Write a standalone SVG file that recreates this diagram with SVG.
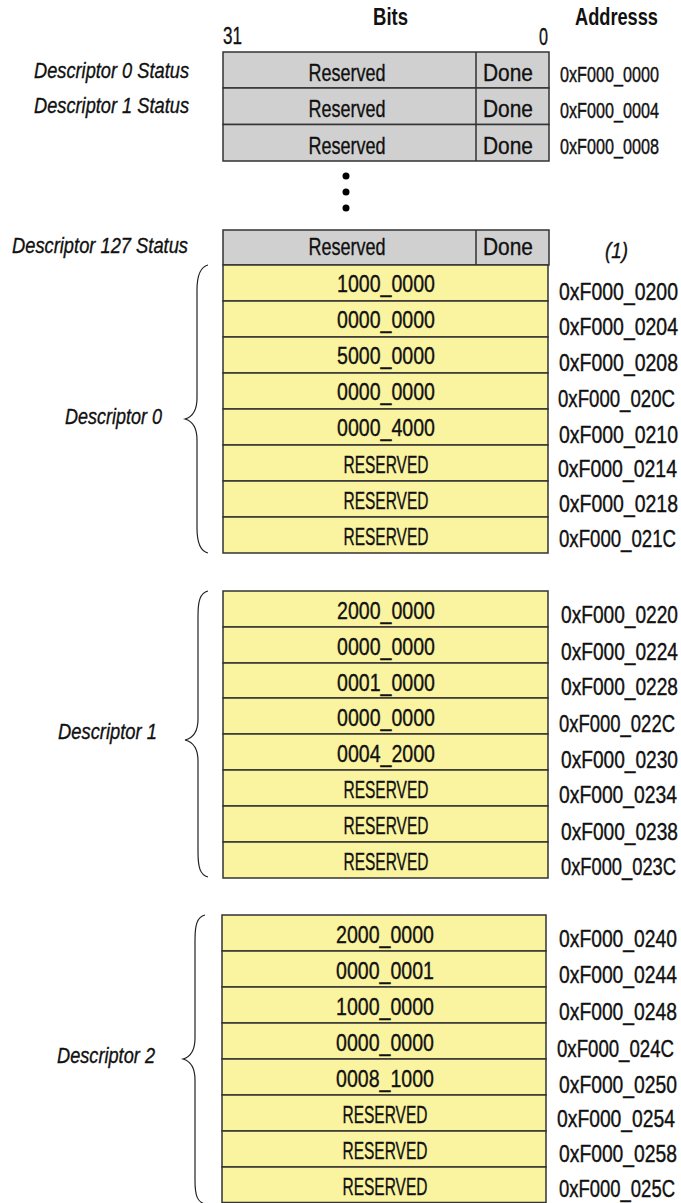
<svg xmlns="http://www.w3.org/2000/svg" width="681" height="1203" viewBox="0 0 681 1203">
<style>
text{font-family:"Liberation Sans",Arial,sans-serif;fill:#111;font-size:24px;stroke:#111;stroke-width:0.35px}
.i{font-style:italic;font-size:22px}
.b{font-weight:bold;font-size:18px;stroke-width:0}
.a{font-size:18px;stroke-width:0.3px}
.s{font-size:16px;stroke-width:0.3px}
.c{text-anchor:middle}
.g{fill:#d0d0d0;stroke:#333;stroke-width:1.5}
.y{fill:#faf3a0;stroke:#333;stroke-width:1.5}
.br{fill:none;stroke:#222;stroke-width:1.2}
</style>
<rect width="681" height="1203" fill="#fff"/>
<g id="header">
<text class="b" transform="translate(373,25) scale(1,1.333)" textLength="35" lengthAdjust="spacingAndGlyphs">Bits</text>
<text class="b" transform="translate(575,25) scale(1,1.333)" textLength="83" lengthAdjust="spacingAndGlyphs">Addresss</text>
<text x="223" y="44" textLength="19" lengthAdjust="spacingAndGlyphs">31</text>
<text x="539" y="45" textLength="9" lengthAdjust="spacingAndGlyphs">0</text>
</g>
<g id="status0">
<rect class="g" x="223" y="52" width="326" height="36"/><line x1="476" y1="52" x2="476" y2="88" stroke="#333" stroke-width="1.5"/>
<text class="i" x="34" y="78" textLength="155" lengthAdjust="spacingAndGlyphs">Descriptor 0 Status</text>
<text class="c" x="347" y="81" textLength="77" lengthAdjust="spacingAndGlyphs">Reserved</text>
<text class="c" x="508" y="81" textLength="50" lengthAdjust="spacingAndGlyphs">Done</text>
<text class="s" transform="translate(560,82) scale(1,1.375)" textLength="99" lengthAdjust="spacingAndGlyphs">0xF000_0000</text>
</g>
<g id="status1">
<rect class="g" x="223" y="88" width="326" height="36.5"/><line x1="476" y1="88" x2="476" y2="124.5" stroke="#333" stroke-width="1.5"/>
<text class="i" x="34" y="113" textLength="155" lengthAdjust="spacingAndGlyphs">Descriptor 1 Status</text>
<text class="c" x="347" y="117" textLength="77" lengthAdjust="spacingAndGlyphs">Reserved</text>
<text class="c" x="508" y="117" textLength="50" lengthAdjust="spacingAndGlyphs">Done</text>
<text class="s" transform="translate(560,118) scale(1,1.375)" textLength="99" lengthAdjust="spacingAndGlyphs">0xF000_0004</text>
</g>
<g id="status2">
<rect class="g" x="223" y="124.5" width="326" height="36.5"/><line x1="476" y1="124.5" x2="476" y2="161" stroke="#333" stroke-width="1.5"/>
<text class="c" x="347" y="153.5" textLength="77" lengthAdjust="spacingAndGlyphs">Reserved</text>
<text class="c" x="508" y="153.5" textLength="50" lengthAdjust="spacingAndGlyphs">Done</text>
<text class="s" transform="translate(560,154) scale(1,1.375)" textLength="99" lengthAdjust="spacingAndGlyphs">0xF000_0008</text>
</g>
<g id="ellipsis" fill="#000">
<circle cx="346" cy="176" r="3.5"/><circle cx="346" cy="192" r="3.5"/><circle cx="346" cy="208" r="3.5"/>
</g>
<g id="status127">
<rect class="g" x="223" y="230" width="326" height="35"/><line x1="476" y1="230" x2="476" y2="265" stroke="#333" stroke-width="1.5"/>
<text class="i" x="12" y="253" textLength="176" lengthAdjust="spacingAndGlyphs">Descriptor 127 Status</text>
<text class="c" x="347" y="255" textLength="77" lengthAdjust="spacingAndGlyphs">Reserved</text>
<text class="c" x="508" y="255" textLength="50" lengthAdjust="spacingAndGlyphs">Done</text>
<text class="i" x="605" y="258" textLength="23" lengthAdjust="spacingAndGlyphs">(1)</text>
</g>
<g id="descriptor0">
<rect class="y" x="223" y="265" width="325" height="36"/>
<rect class="y" x="223" y="301" width="325" height="36"/>
<rect class="y" x="223" y="337" width="325" height="36"/>
<rect class="y" x="223" y="373" width="325" height="36"/>
<rect class="y" x="223" y="409" width="325" height="36"/>
<rect class="y" x="223" y="445" width="325" height="36"/>
<rect class="y" x="223" y="481" width="325" height="36"/>
<rect class="y" x="223" y="517" width="325" height="36"/>
<text class="c" x="386" y="292" textLength="98" lengthAdjust="spacingAndGlyphs">1000_0000</text>
<text class="c" x="386" y="328" textLength="98" lengthAdjust="spacingAndGlyphs">0000_0000</text>
<text class="c" x="386" y="364" textLength="98" lengthAdjust="spacingAndGlyphs">5000_0000</text>
<text class="c" x="386" y="400" textLength="98" lengthAdjust="spacingAndGlyphs">0000_0000</text>
<text class="c" x="386" y="436" textLength="98" lengthAdjust="spacingAndGlyphs">0000_4000</text>
<text class="c" x="386" y="473" textLength="85" lengthAdjust="spacingAndGlyphs">RESERVED</text>
<text class="c" x="386" y="509" textLength="85" lengthAdjust="spacingAndGlyphs">RESERVED</text>
<text class="c" x="386" y="545" textLength="85" lengthAdjust="spacingAndGlyphs">RESERVED</text>
<text class="a" transform="translate(559,300) scale(1,1.333)" textLength="119" lengthAdjust="spacingAndGlyphs">0xF000_0200</text>
<text class="a" transform="translate(559,335) scale(1,1.333)" textLength="119" lengthAdjust="spacingAndGlyphs">0xF000_0204</text>
<text class="a" transform="translate(559,371) scale(1,1.333)" textLength="119" lengthAdjust="spacingAndGlyphs">0xF000_0208</text>
<text class="a" transform="translate(558,407) scale(1,1.333)" textLength="117" lengthAdjust="spacingAndGlyphs">0xF000_020C</text>
<text class="a" transform="translate(559,443) scale(1,1.333)" textLength="119" lengthAdjust="spacingAndGlyphs">0xF000_0210</text>
<text class="a" transform="translate(558,477) scale(1,1.333)" textLength="119" lengthAdjust="spacingAndGlyphs">0xF000_0214</text>
<text class="a" transform="translate(559,512) scale(1,1.333)" textLength="119" lengthAdjust="spacingAndGlyphs">0xF000_0218</text>
<text class="a" transform="translate(559,547) scale(1,1.333)" textLength="117" lengthAdjust="spacingAndGlyphs">0xF000_021C</text>
<text class="i" x="65" y="424" textLength="97" lengthAdjust="spacingAndGlyphs">Descriptor 0</text>
</g>
<g id="descriptor1">
<rect class="y" x="223" y="591" width="325" height="36"/>
<rect class="y" x="223" y="627" width="325" height="36"/>
<rect class="y" x="223" y="663" width="325" height="35"/>
<rect class="y" x="223" y="698" width="325" height="36"/>
<rect class="y" x="223" y="734" width="325" height="36"/>
<rect class="y" x="223" y="770" width="325" height="36"/>
<rect class="y" x="223" y="806" width="325" height="36"/>
<rect class="y" x="223" y="842" width="325" height="36"/>
<text class="c" x="386" y="619" textLength="98" lengthAdjust="spacingAndGlyphs">2000_0000</text>
<text class="c" x="386" y="655" textLength="98" lengthAdjust="spacingAndGlyphs">0000_0000</text>
<text class="c" x="386" y="691" textLength="98" lengthAdjust="spacingAndGlyphs">0001_0000</text>
<text class="c" x="386" y="726" textLength="98" lengthAdjust="spacingAndGlyphs">0000_0000</text>
<text class="c" x="386" y="762" textLength="98" lengthAdjust="spacingAndGlyphs">0004_2000</text>
<text class="c" x="386" y="798" textLength="85" lengthAdjust="spacingAndGlyphs">RESERVED</text>
<text class="c" x="386" y="834" textLength="85" lengthAdjust="spacingAndGlyphs">RESERVED</text>
<text class="c" x="386" y="870" textLength="85" lengthAdjust="spacingAndGlyphs">RESERVED</text>
<text class="a" transform="translate(561,623) scale(1,1.333)" textLength="117" lengthAdjust="spacingAndGlyphs">0xF000_0220</text>
<text class="a" transform="translate(561,660) scale(1,1.333)" textLength="117" lengthAdjust="spacingAndGlyphs">0xF000_0224</text>
<text class="a" transform="translate(561,695) scale(1,1.333)" textLength="117" lengthAdjust="spacingAndGlyphs">0xF000_0228</text>
<text class="a" transform="translate(559,732) scale(1,1.333)" textLength="116" lengthAdjust="spacingAndGlyphs">0xF000_022C</text>
<text class="a" transform="translate(561,768) scale(1,1.333)" textLength="117" lengthAdjust="spacingAndGlyphs">0xF000_0230</text>
<text class="a" transform="translate(559,803) scale(1,1.333)" textLength="118" lengthAdjust="spacingAndGlyphs">0xF000_0234</text>
<text class="a" transform="translate(561,840) scale(1,1.333)" textLength="117" lengthAdjust="spacingAndGlyphs">0xF000_0238</text>
<text class="a" transform="translate(561,875) scale(1,1.333)" textLength="115" lengthAdjust="spacingAndGlyphs">0xF000_023C</text>
<text class="i" x="58" y="739" textLength="99" lengthAdjust="spacingAndGlyphs">Descriptor 1</text>
</g>
<g id="descriptor2">
<rect class="y" x="222" y="915" width="324" height="36"/>
<rect class="y" x="222" y="951" width="324" height="36"/>
<rect class="y" x="222" y="987" width="324" height="36"/>
<rect class="y" x="222" y="1023" width="324" height="36"/>
<rect class="y" x="222" y="1059" width="324" height="36"/>
<rect class="y" x="222" y="1095" width="324" height="36"/>
<rect class="y" x="222" y="1131" width="324" height="36"/>
<rect class="y" x="222" y="1167" width="324" height="35.5"/>
<text class="c" x="385" y="943" textLength="98" lengthAdjust="spacingAndGlyphs">2000_0000</text>
<text class="c" x="385" y="979" textLength="98" lengthAdjust="spacingAndGlyphs">0000_0001</text>
<text class="c" x="385" y="1015" textLength="98" lengthAdjust="spacingAndGlyphs">1000_0000</text>
<text class="c" x="385" y="1051" textLength="98" lengthAdjust="spacingAndGlyphs">0000_0000</text>
<text class="c" x="385" y="1087" textLength="98" lengthAdjust="spacingAndGlyphs">0008_1000</text>
<text class="c" x="385" y="1123" textLength="85" lengthAdjust="spacingAndGlyphs">RESERVED</text>
<text class="c" x="385" y="1159" textLength="85" lengthAdjust="spacingAndGlyphs">RESERVED</text>
<text class="c" x="385" y="1195" textLength="85" lengthAdjust="spacingAndGlyphs">RESERVED</text>
<text class="a" transform="translate(559,947) scale(1,1.333)" textLength="118" lengthAdjust="spacingAndGlyphs">0xF000_0240</text>
<text class="a" transform="translate(559,983) scale(1,1.333)" textLength="118" lengthAdjust="spacingAndGlyphs">0xF000_0244</text>
<text class="a" transform="translate(559,1020) scale(1,1.333)" textLength="118" lengthAdjust="spacingAndGlyphs">0xF000_0248</text>
<text class="a" transform="translate(557,1057) scale(1,1.333)" textLength="117" lengthAdjust="spacingAndGlyphs">0xF000_024C</text>
<text class="a" transform="translate(559,1093) scale(1,1.333)" textLength="118" lengthAdjust="spacingAndGlyphs">0xF000_0250</text>
<text class="a" transform="translate(557,1127) scale(1,1.333)" textLength="118" lengthAdjust="spacingAndGlyphs">0xF000_0254</text>
<text class="a" transform="translate(559,1162) scale(1,1.333)" textLength="118" lengthAdjust="spacingAndGlyphs">0xF000_0258</text>
<text class="a" transform="translate(559,1197) scale(1,1.333)" textLength="116" lengthAdjust="spacingAndGlyphs">0xF000_025C</text>
<text class="i" x="57" y="1063" textLength="98" lengthAdjust="spacingAndGlyphs">Descriptor 2</text>
</g>
<g id="braces">
<path class="br" d="M208,265 C200,267 197,275 197,290 L197,398 C197,411 192,417 185,419 C192,421 197,427 197,440 L197,528 C197,543 200,551 208,553"/>
<path class="br" d="M208,591 C200,593 198,601 198,616 L198,719 C198,732 193,738 185,740 C193,742 198,748 198,761 L198,852 C198,867 200,875 208,877"/>
<path class="br" d="M205,915 C197,917 195,925 195,940 L195,1038 C195,1051 190,1057 183,1059 C190,1061 195,1067 195,1080 L195,1180 C195,1195 197,1202 205,1204"/>
</g>
</svg>
